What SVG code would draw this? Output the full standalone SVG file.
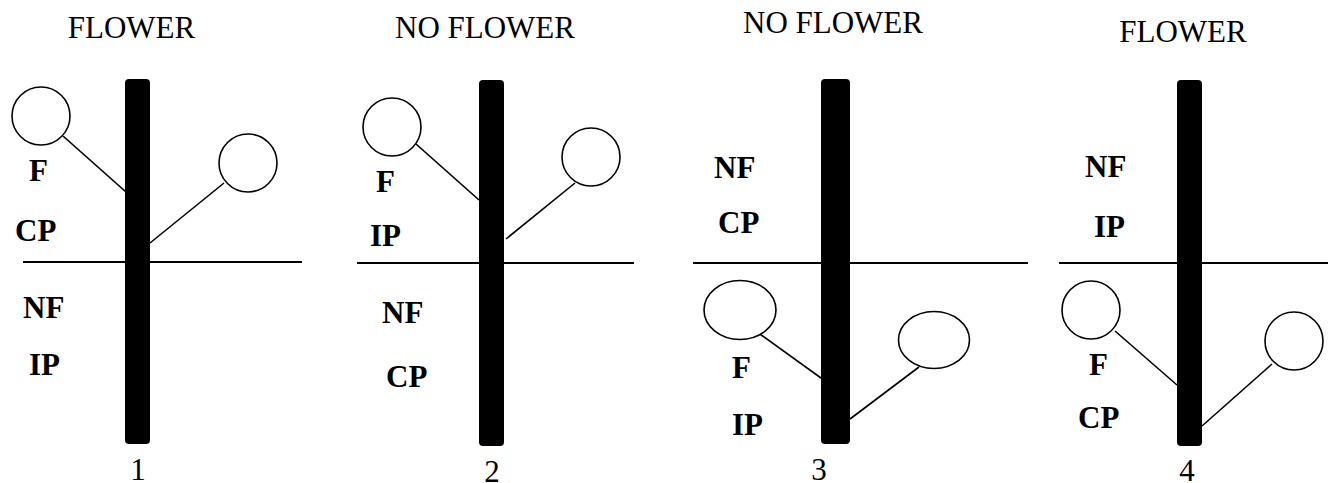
<svg xmlns="http://www.w3.org/2000/svg" width="1328" height="483" viewBox="0 0 1328 483">
  <style>
    text { font-family: 'Liberation Serif', 'DejaVu Serif', 'Times New Roman', Times, serif; fill: #000; }
    .title { font-size: 31px; text-anchor: middle; }
    .num { font-size: 31px; text-anchor: middle; }
    .lbl { font-size: 31px; font-weight: bold; }
    .stem { fill: #000; }
    .flower { fill: #fff; stroke: #000; stroke-width: 1.6; }
    .divider { stroke: #000; stroke-width: 1.8; }
    .branch { stroke: #000; stroke-width: 1.6; fill: none; }
  </style>
  <rect width="1328" height="483" fill="#fff"/>

  <!-- day-length divider lines -->
  <g id="dividers">
    <line class="divider" x1="23" y1="262" x2="302" y2="262"/>
    <line class="divider" x1="357" y1="263" x2="634" y2="263"/>
    <line class="divider" x1="693" y1="263" x2="1028" y2="263"/>
    <line class="divider" x1="1059" y1="263" x2="1328" y2="263"/>
  </g>

  <!-- branches joining each flower bud to its stem -->
  <g id="connectors">
    <line class="branch" x1="63" y1="136" x2="126" y2="192"/>
    <line class="branch" x1="224" y1="183" x2="150" y2="243"/>
    <line class="branch" x1="416" y1="144" x2="479" y2="200"/>
    <line class="branch" x1="575" y1="183" x2="506" y2="239"/>
    <line class="branch" x1="757" y1="332" x2="821" y2="378"/>
    <line class="branch" x1="919" y1="367" x2="850" y2="419"/>
    <line class="branch" x1="1115" y1="331" x2="1177" y2="385"/>
    <line class="branch" x1="1272" y1="364" x2="1202" y2="426"/>
  </g>

  <!-- plant 1 -->
  <g id="plant1">
    <text class="title" x="131.5" y="38" font-family="Liberation Serif, serif">FLOWER</text>
    <rect class="stem" x="125" y="79" width="25" height="365" rx="4"/>
    <circle class="flower" cx="41" cy="116" r="29"/>
    <circle class="flower" cx="248" cy="163" r="29"/>
    <text class="lbl" x="29" y="181">F</text>
    <text class="lbl" x="15" y="241">CP</text>
    <text class="lbl" x="23" y="318">NF</text>
    <text class="lbl" x="29" y="375">IP</text>
    <text class="num" x="138" y="480">1</text>
  </g>

  <!-- plant 2 -->
  <g id="plant2">
    <text class="title" x="485" y="38">NO FLOWER</text>
    <rect class="stem" x="479" y="80" width="25" height="366" rx="4"/>
    <circle class="flower" cx="392" cy="127" r="29"/>
    <circle class="flower" cx="591" cy="157" r="29"/>
    <text class="lbl" x="376" y="192">F</text>
    <text class="lbl" x="370" y="246">IP</text>
    <text class="lbl" x="382" y="323">NF</text>
    <text class="lbl" x="386" y="387">CP</text>
    <text class="num" x="492" y="482">2</text>
  </g>

  <!-- plant 3 -->
  <g id="plant3">
    <text class="title" x="833" y="33">NO FLOWER</text>
    <rect class="stem" x="821" y="79" width="29" height="365" rx="4"/>
    <ellipse class="flower" cx="740" cy="310" rx="36" ry="29.5"/>
    <ellipse class="flower" cx="934" cy="340" rx="35.5" ry="28.5"/>
    <text class="lbl" x="714" y="178">NF</text>
    <text class="lbl" x="718" y="233">CP</text>
    <text class="lbl" x="732" y="378">F</text>
    <text class="lbl" x="732" y="435">IP</text>
    <text class="num" x="819" y="480">3</text>
  </g>

  <!-- plant 4 -->
  <g id="plant4">
    <text class="title" x="1183" y="42">FLOWER</text>
    <rect class="stem" x="1177" y="80" width="25" height="366" rx="4"/>
    <circle class="flower" cx="1091" cy="310" r="29"/>
    <circle class="flower" cx="1294" cy="341" r="29"/>
    <text class="lbl" x="1085" y="177">NF</text>
    <text class="lbl" x="1094" y="237">IP</text>
    <text class="lbl" x="1089" y="375">F</text>
    <text class="lbl" x="1078" y="428">CP</text>
    <text class="num" x="1187" y="481">4</text>
  </g>
</svg>
